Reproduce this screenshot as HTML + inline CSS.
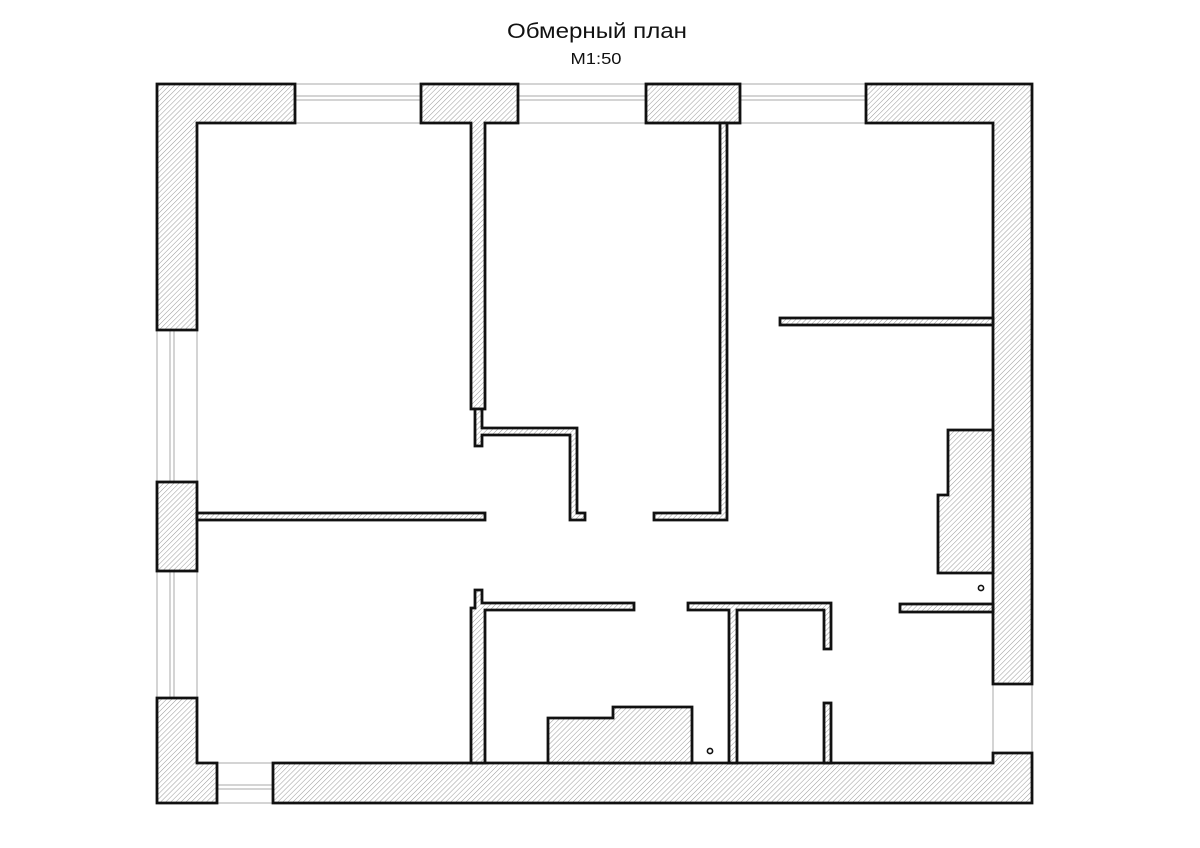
<!DOCTYPE html>
<html><head><meta charset="utf-8"><style>
html,body{margin:0;padding:0;background:#fff;width:1200px;height:848px;overflow:hidden}
svg{display:block}
</style></head><body>
<svg width="1200" height="848" viewBox="0 0 1200 848" xmlns="http://www.w3.org/2000/svg">
<defs>
<pattern id="h" patternUnits="userSpaceOnUse" width="3.6" height="3.6" patternTransform="rotate(45)">
<rect width="3.6" height="3.6" fill="#fff"/>
<line x1="0" y1="0" x2="0" y2="3.6" stroke="#999" stroke-width="1"/>
</pattern>
</defs>
<text x="597" y="38" text-anchor="middle" font-family="'Liberation Sans', sans-serif" font-size="21" textLength="180" lengthAdjust="spacingAndGlyphs" fill="#111">Обмерный план</text>
<text x="596" y="64" text-anchor="middle" font-family="'Liberation Sans', sans-serif" font-size="16" textLength="51" lengthAdjust="spacingAndGlyphs" fill="#111">М1:50</text>

<g stroke="#aaa" stroke-width="1" fill="none">
<line x1="295" y1="84" x2="866" y2="84"/><line x1="295" y1="96" x2="866" y2="96"/><line x1="295" y1="100" x2="866" y2="100"/><line x1="295" y1="123" x2="866" y2="123"/>
<line x1="157" y1="330" x2="157" y2="698"/><line x1="170" y1="330" x2="170" y2="698"/><line x1="174" y1="330" x2="174" y2="698"/><line x1="197" y1="330" x2="197" y2="698"/>
<line x1="217" y1="763" x2="273" y2="763"/><line x1="217" y1="785" x2="273" y2="785"/><line x1="217" y1="789" x2="273" y2="789"/><line x1="217" y1="803" x2="273" y2="803"/>
<line x1="993" y1="684" x2="993" y2="753"/><line x1="1032" y1="684" x2="1032" y2="753"/>
</g>

<g fill="url(#h)" stroke="#111" stroke-width="2.8" stroke-linejoin="miter">
<polygon points="157,84 295,84 295,123 197,123 197,330 157,330"/>
<rect x="157" y="482" width="40" height="89"/>
<polygon points="157,698 197,698 197,763 217,763 217,803 157,803"/>
<polygon points="273,763 993,763 993,753 1032,753 1032,803 273,803"/>
<polygon points="866,84 1032,84 1032,684 993,684 993,123 866,123"/>
<polygon points="421,84 518,84 518,123 485,123 485,409 471,409 471,123 421,123"/>
<rect x="646" y="84" width="94" height="39"/>
<rect x="197" y="513" width="288" height="7"/>
<polygon points="475,409 482,409 482,428 577,428 577,513 585,513 585,520 570,520 570,435 482,435 482,446 475,446"/>
<polygon points="720,123 727,123 727,520 654,520 654,513 720,513"/>
<rect x="780" y="318" width="213" height="7"/>
<polygon points="948,430 993,430 993,573 938,573 938,495 948,495"/>
<rect x="900" y="604" width="93" height="8"/>
<polygon points="475,590 482,590 482,603 634,603 634,610 485,610 485,763 471,763 471,608 475,608"/>
<polygon points="688,603 831,603 831,649 824,649 824,610 737,610 737,763 729,763 729,610 688,610"/>
<rect x="824" y="703" width="7" height="60"/>
<polygon points="548,718 613,718 613,707 692,707 692,763 548,763"/>
</g>
<circle cx="981" cy="588" r="2.6" fill="none" stroke="#111" stroke-width="1.6"/>
<circle cx="710" cy="751" r="2.6" fill="none" stroke="#111" stroke-width="1.6"/>
</svg>
</body></html>
